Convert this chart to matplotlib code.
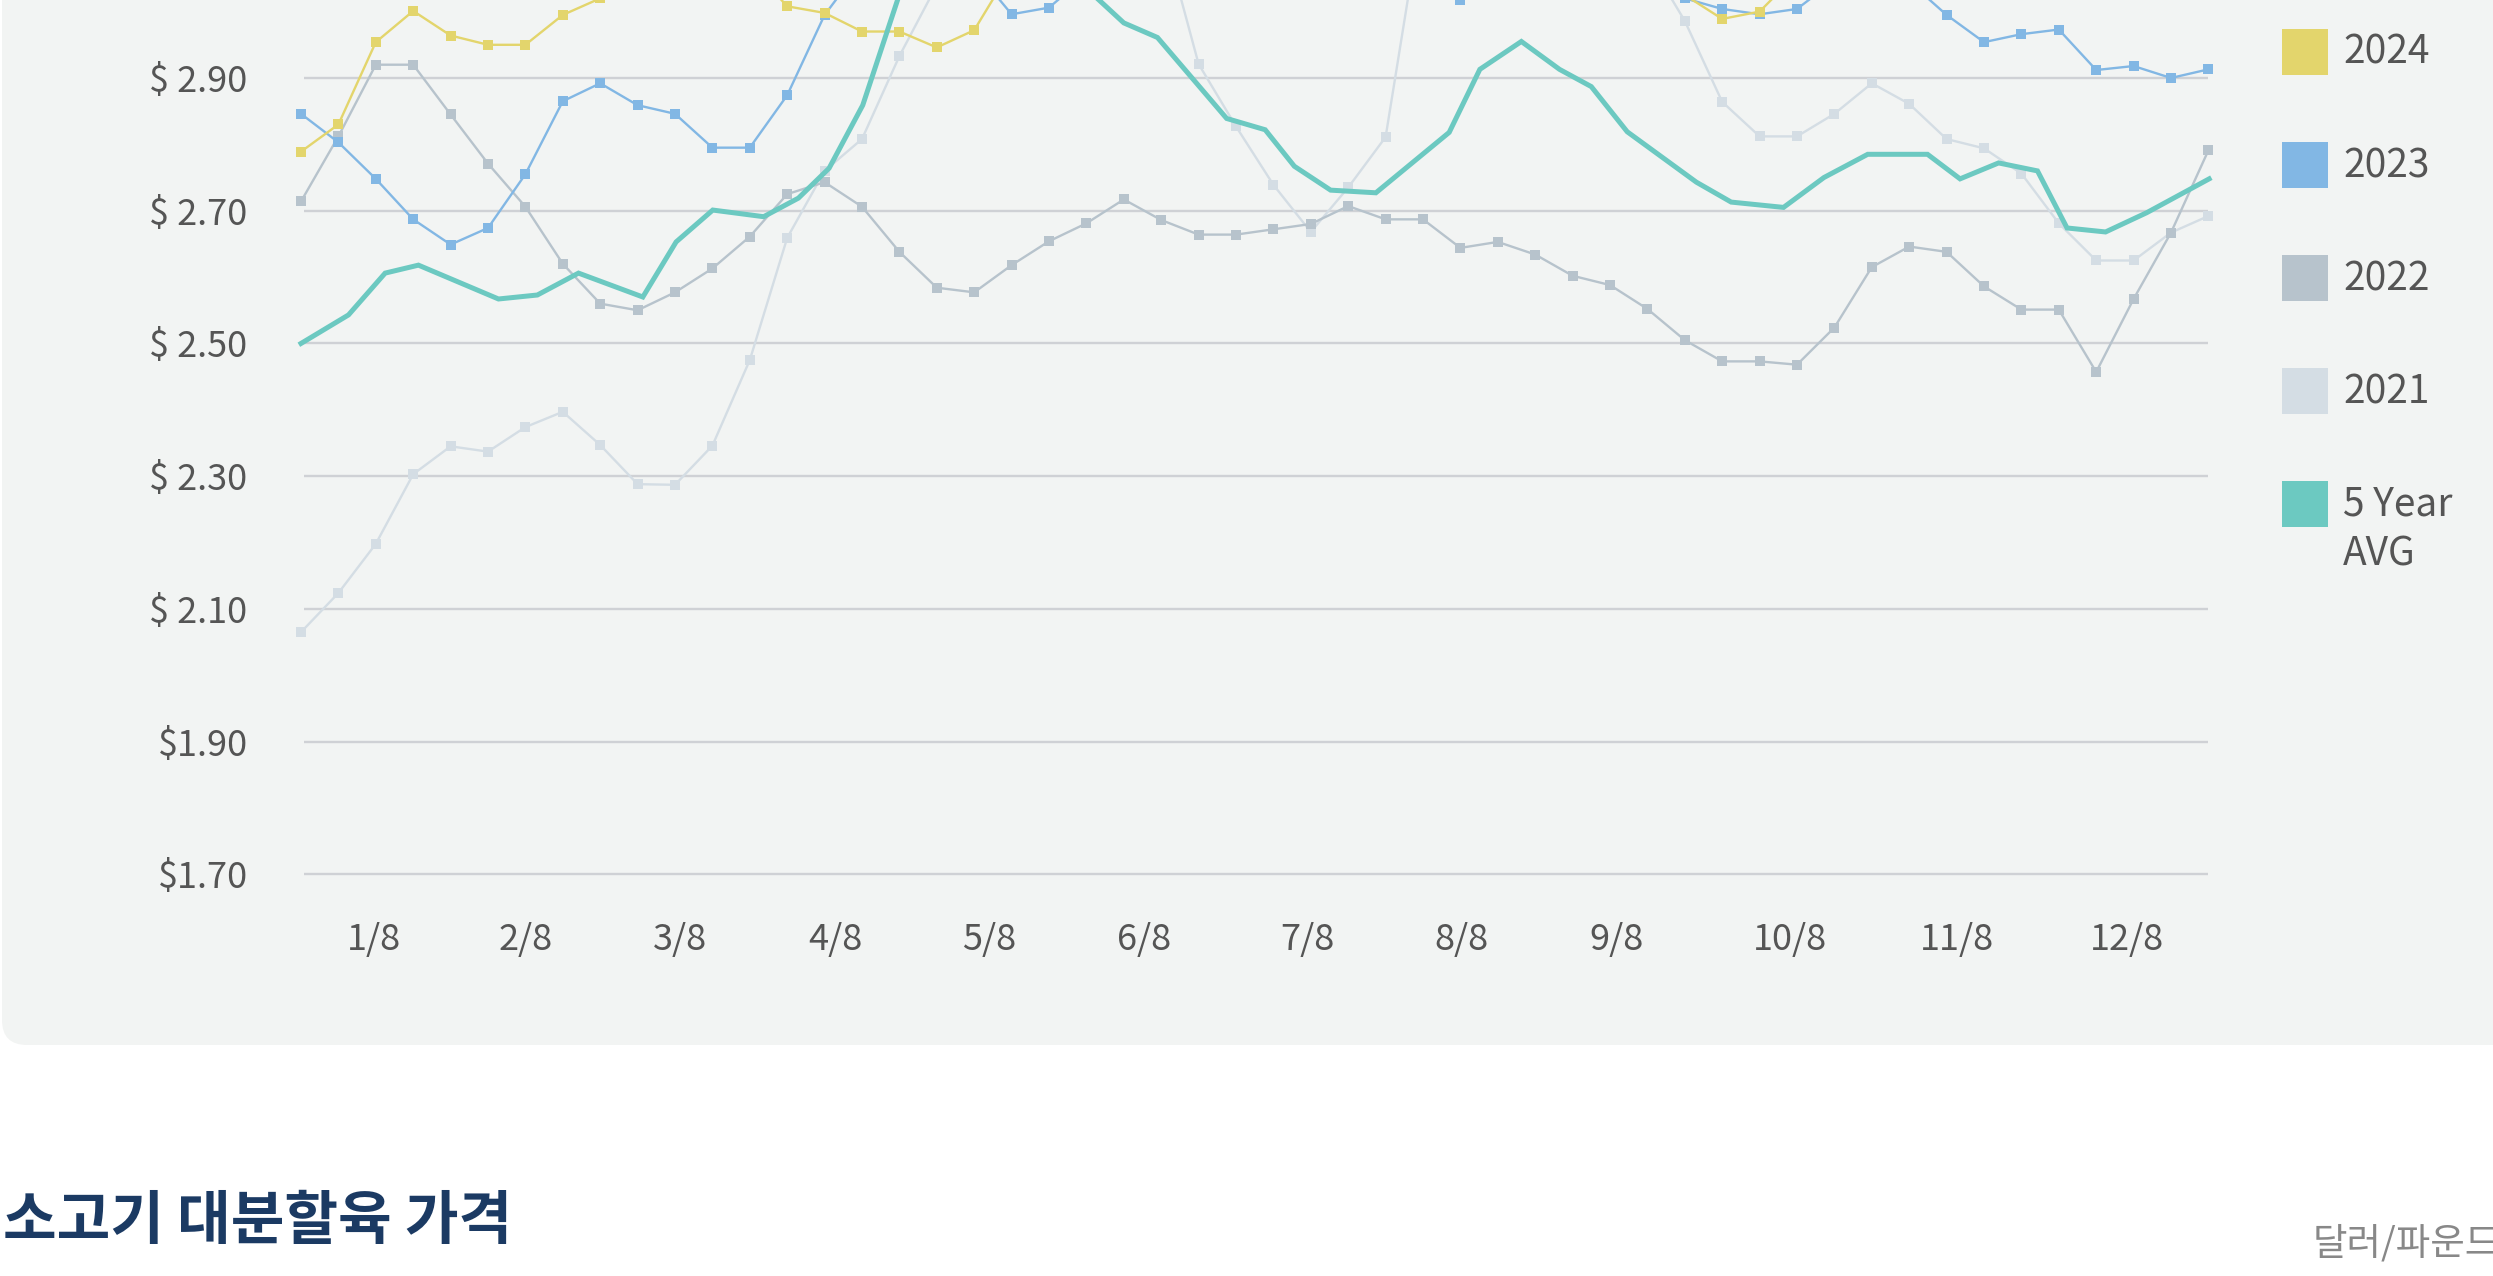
import matplotlib
matplotlib.use("Agg")
import matplotlib.pyplot as plt
from matplotlib.patches import FancyBboxPatch, Rectangle

plt.rcParams['font.family'] = ['Noto Sans CJK KR', 'DejaVu Sans']

# weekly prices, $/lb (values above ~3.02 are cut off in the source and estimated)
weeks = list(range(52))
y2024 = [2.789, 2.830, 2.954, 3.001, 2.964, 2.950, 2.950, 2.995, 3.020, 3.05,
         3.07, 3.08, 3.07, 3.008, 2.998, 2.970, 2.970, 2.946, 2.972, 3.065,
         3.12, 3.15, 3.18, 3.20, 3.22, 3.20, 3.18, 3.17, 3.15, 3.14,
         3.12, 3.10, 3.12, 3.14, 3.12, 3.08, 3.05, 3.025, 2.989, 3.000,
         3.057, 3.10, 3.13, 3.15, 3.17, 3.20, 3.22, 3.24, 3.25, 3.26,
         3.27, 3.28]
y2023 = [2.846, 2.803, 2.748, 2.687, 2.649, 2.674, 2.755, 2.865, 2.892, 2.859,
         2.846, 2.795, 2.795, 2.874, 2.995, 3.07, 3.10, 3.09, 3.064, 2.996,
         3.006, 3.054, 3.09, 3.12, 3.14, 3.15, 3.13, 3.10, 3.08, 3.06,
         3.04, 3.018, 3.04, 3.07, 3.09, 3.08, 3.05, 3.02, 3.004, 2.996,
         3.004, 3.047, 3.07, 3.045, 2.995, 2.954, 2.966, 2.973, 2.912, 2.918,
         2.900, 2.913]
y2022 = [2.714, 2.812, 2.920, 2.920, 2.845, 2.771, 2.706, 2.620, 2.560, 2.550,
         2.577, 2.613, 2.661, 2.725, 2.743, 2.706, 2.638, 2.584, 2.577, 2.618,
         2.654, 2.681, 2.717, 2.686, 2.664, 2.664, 2.672, 2.680, 2.707, 2.687,
         2.687, 2.644, 2.653, 2.634, 2.602, 2.588, 2.552, 2.505, 2.473, 2.473,
         2.468, 2.524, 2.615, 2.646, 2.638, 2.586, 2.551, 2.551, 2.457, 2.567,
         2.667, 2.791]
y2021 = [2.065, 2.124, 2.198, 2.303, 2.345, 2.337, 2.374, 2.397, 2.347, 2.288,
         2.287, 2.346, 2.475, 2.659, 2.760, 2.808, 2.933, 3.04, 3.10, 3.15,
         3.18, 3.20, 3.18, 3.13, 2.921, 2.827, 2.739, 2.668, 2.735, 2.811,
         3.16, 3.25, 3.30, 3.28, 3.22, 3.15, 3.08, 2.986, 2.864, 2.812,
         2.812, 2.846, 2.892, 2.861, 2.808, 2.794, 2.756, 2.681, 2.625, 2.625,
         2.667, 2.692]

# 5 year average has its own (slightly shifted) weekly positions
avg_weeks = [0, 1.27, 2.25, 3.14, 5.28, 6.32, 7.42, 9.14, 10.03, 11.01,
             12.37, 13.3, 14.12, 15.02, 16.2, 17.5, 19.0, 20.3, 21.0, 22.0,
             22.9, 24.75, 25.78, 26.56, 27.53, 28.74, 30.7, 31.52, 32.63, 33.65,
             34.5, 35.46, 37.31, 38.24, 39.64, 40.72, 41.89, 43.49, 44.36, 45.39,
             46.43, 47.22, 48.25, 49.35, 51.02]
avg5 = [2.500, 2.543, 2.606, 2.618, 2.567, 2.573, 2.606, 2.570, 2.653, 2.701,
        2.691, 2.719, 2.764, 2.859, 3.06, 3.16, 3.19, 3.10, 3.035, 2.983,
        2.961, 2.839, 2.822, 2.767, 2.731, 2.727, 2.818, 2.913, 2.955, 2.913,
        2.887, 2.819, 2.743, 2.713, 2.705, 2.750, 2.785, 2.785, 2.748, 2.772,
        2.760, 2.674, 2.668, 2.697, 2.748]

xtick_pos = [1.96, 6.0, 10.13, 14.29, 18.41, 22.55, 26.92, 31.03, 35.17, 39.8, 44.28, 48.83]
xtick_labels = ['1/8', '2/8', '3/8', '4/8', '5/8', '6/8', '7/8', '8/8', '9/8', '10/8', '11/8', '12/8']
ytick_pos = [1.70, 1.90, 2.10, 2.30, 2.50, 2.70, 2.90]
ytick_labels = ['$1.70', '$1.90', '$ 2.10', '$ 2.30', '$ 2.50', '$ 2.70', '$ 2.90']

series = [('2024', y2024, '#e3d56c'),
          ('2023', y2023, '#82b7e4'),
          ('2022', y2022, '#b7c3cc'),
          ('2021', y2021, '#d4dde4')]
avg_color = '#6cc9c1'

W, H = 2493, 1276
fig = plt.figure(figsize=(W / 100, H / 100), dpi=100, facecolor='white')

# light panel behind the chart (rounded bottom-left corner)
panel = FancyBboxPatch((0.02, 2.31), 26, 12, boxstyle='round,pad=0,rounding_size=0.25',
                       transform=fig.dpi_scale_trans, facecolor='#f2f4f3',
                       edgecolor='none', zorder=-10)
fig.patches.append(panel)

ax = fig.add_axes([282.3 / W, (H - 874.4) / H, 1944.8 / W, 874.4 / H])
ax.set_zorder(1)
ax.set_facecolor('none')
for s in ax.spines.values():
    s.set_visible(False)
ax.set_xlim(-0.5, 51.5)
ax.set_ylim(1.70, 3.0175)

ax.hlines(ytick_pos, 0.08, 51.0, colors='#cfd1d5', linewidth=1.7, zorder=1, clip_on=False)

for z, (name, vals, col) in enumerate(reversed(series)):
    ax.plot(weeks, vals, color=col, linewidth=1.7, marker='s', markersize=6.5,
            markeredgewidth=0, zorder=2 + z)
ax.plot(avg_weeks, avg5, color=avg_color, linewidth=3.6, solid_joinstyle='miter', zorder=10)

ax.set_yticks(ytick_pos)
ax.set_yticklabels(ytick_labels)
ax.set_xticks(xtick_pos)
ax.set_xticklabels(xtick_labels)
ax.tick_params(axis='both', length=0, labelsize=26, labelcolor='#555555')
ax.tick_params(axis='y', pad=25)
ax.tick_params(axis='x', pad=34)

# legend, drawn by hand in pixel units
leg_rows = [('2024', '#e3d56c', 52), ('2023', '#82b7e4', 165), ('2022', '#b7c3cc', 278),
            ('2021', '#d4dde4', 391), ('5 Year', avg_color, 504)]
for label, col, yc in leg_rows:
    fig.patches.append(Rectangle((22.82, (H - yc - 23) / 100), 0.46, 0.46,
                                 transform=fig.dpi_scale_trans, facecolor=col,
                                 edgecolor='none', zorder=3))
    fig.text(23.43 / (W / 100), 1 - (yc + 1) / H, label, fontsize=28, color='#555555',
             va='center', ha='left')
fig.text(23.43 / (W / 100), 1 - 554 / H, 'AVG', fontsize=28, color='#555555',
         va='center', ha='left')

fig.text(3 / W, 1 - 1222 / H, '소고기 대분할육 가격', fontsize=42, fontweight='bold',
         color='#1b3a63', va='center', ha='left')
fig.text(2313 / W, 1 - 1244 / H, '달러/파운드', fontsize=27, color='#888888',
         va='center', ha='left')

fig.savefig('out.png', dpi=100, facecolor='white')
